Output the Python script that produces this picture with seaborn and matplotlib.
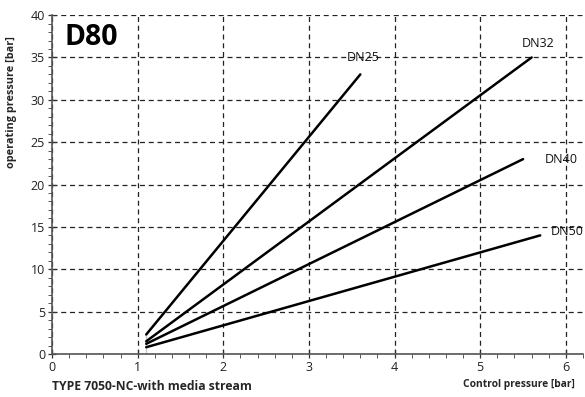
import matplotlib
matplotlib.use("Agg")
import matplotlib.pyplot as plt
from matplotlib.ticker import MultipleLocator
import pandas as pd
import seaborn as sns

# Characteristic lines: control pressure [bar] -> operating pressure [bar]
series = ["DN25", "DN32", "DN40", "DN50"]
control_start = [1.1, 1.1, 1.1, 1.1]
control_end = [3.6, 5.6, 5.5, 5.7]
operating_start = [2.3, 1.5, 1.2, 0.8]
operating_end = [33.0, 35.0, 23.0, 14.0]

# Common vertical start segment at 1.1 bar
start_x = [1.1, 1.1]
start_y = [0.0, 2.3]

# Label anchor points
label_x = [3.63, 5.68, 5.95, 6.02]
label_y = [35.0, 36.7, 23.0, 14.5]

rows = []
for name, x0, x1, y0, y1 in zip(series, control_start, control_end,
                                operating_start, operating_end):
    rows.append({"series": name, "control": x0, "operating": y0})
    rows.append({"series": name, "control": x1, "operating": y1})
df = pd.DataFrame(rows)

sns.set_theme(style="white")
plt.rcParams["font.family"] = ["Open Sans", "DejaVu Sans"]

fig = plt.figure(figsize=(5.85, 3.97), dpi=100)
ax = fig.add_axes([0.0889, 0.1083, 0.9077, 0.8537])

sns.lineplot(data=df, x="control", y="operating", units="series",
             estimator=None, color="black", linewidth=1.8, ax=ax,
             legend=False, sort=False)
sns.lineplot(x=start_x, y=start_y, color="black", linewidth=1.8, ax=ax,
             legend=False, sort=False)

for name, lx, ly in zip(series, label_x, label_y):
    ax.text(lx, ly, name, fontsize=9, ha="center", va="center",
            color="#111111")

ax.set_xlim(0, 6.2)
ax.set_ylim(0, 40)
ax.xaxis.set_major_locator(MultipleLocator(1))
ax.xaxis.set_minor_locator(MultipleLocator(0.2))
ax.yaxis.set_major_locator(MultipleLocator(5))
ax.yaxis.set_minor_locator(MultipleLocator(1))

ax.grid(True, which="major", color="#222222", linestyle=(0, (4, 3)),
        linewidth=0.9)
ax.set_axisbelow(True)

for side in ["top", "right"]:
    ax.spines[side].set_visible(False)
for side in ["left", "bottom"]:
    ax.spines[side].set_color("#555555")
    ax.spines[side].set_linewidth(1.2)

ax.tick_params(which="major", direction="inout", length=6, width=0.9,
               color="#333333", labelsize=9, labelcolor="#222222", pad=2)
ax.tick_params(which="minor", direction="out", length=3, width=0.7,
               color="#555555")
ax.tick_params(axis="x", which="both", bottom=True)
ax.tick_params(axis="y", which="both", left=True)

ax.set_xlabel("")
ax.set_ylabel("")

ax.text(0.15, 37.3, "D80", fontsize=20.5, fontweight="bold", ha="left",
        va="center", color="black")

fig.text(12 / 585, 1 - 102 / 397, "operating pressure [bar]", fontsize=7.8,
         fontweight="bold", rotation=90, ha="center", va="center")
fig.text(52 / 585, 1 - 387 / 397, "TYPE 7050-NC-with media stream",
         fontsize=8.7, fontweight="bold", ha="left", va="center")
fig.text(575 / 585, 1 - 384 / 397, "Control pressure [bar]", fontsize=7.4,
         fontweight="bold", ha="right", va="center")

fig.savefig("out.png", dpi=100, facecolor="white")
